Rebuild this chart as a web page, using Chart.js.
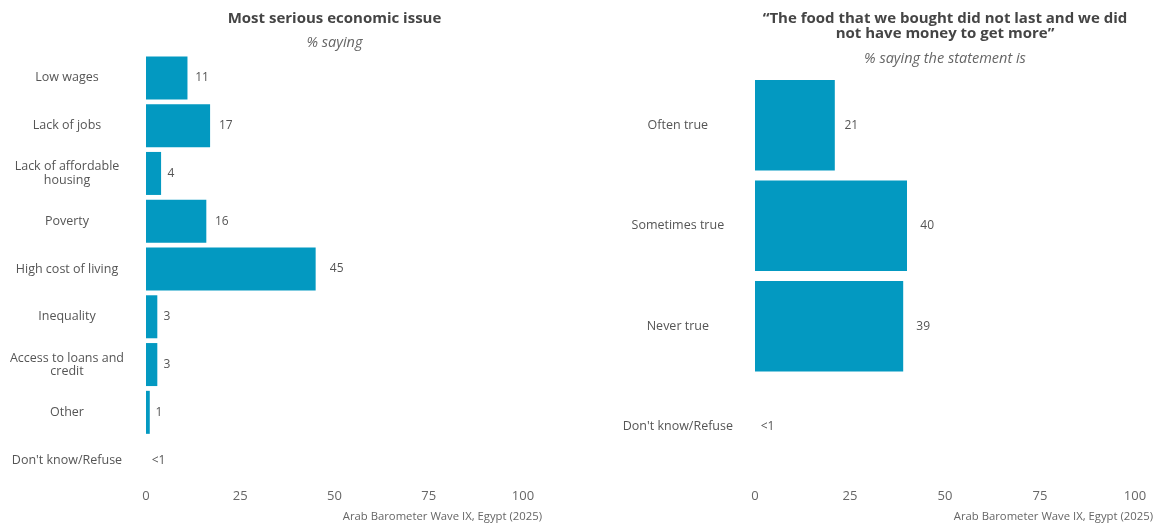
<!DOCTYPE html>
<html>
<head>
<meta charset="utf-8">
<script src="https://cdn.jsdelivr.net/npm/chart.js@4"></script>
<style>
  body { margin: 0; background: #fff; font-family: "Open Sans", sans-serif; }
  #wrap { position: relative; width: 1158px; height: 525px; }
  .box { position: absolute; top: 0; height: 525px; }
  .title { position: absolute; text-align: center; color: #454545; font-weight: 700; font-size: 15px; line-height: 15px; }
  .sub { position: absolute; text-align: center; color: #666; font-style: italic; font-size: 14.5px; }
  .caption { position: absolute; color: #666; font-size: 11.3px; text-align: right; }
</style>
</head>
<body>
<div id="wrap">
  <div class="box" style="left:0;width:580px"><canvas id="issue_chart"></canvas></div>
  <div class="box" style="left:580px;width:578px"><canvas id="food_chart"></canvas></div>

  <div class="title" style="left:146px;width:377px;top:10px">Most serious economic issue</div>
  <div class="sub" style="left:146px;width:377px;top:32px">% saying</div>
  <div class="caption" style="left:200px;width:342px;top:508px">Arab Barometer Wave IX, Egypt (2025)</div>

  <div class="title" style="left:715px;width:460px;top:10px">“The food that we bought did not last and we did<br>not have money to get more”</div>
  <div class="sub" style="left:755px;width:380px;top:48px">% saying the statement is</div>
  <div class="caption" style="left:800px;width:353px;top:508px">Arab Barometer Wave IX, Egypt (2025)</div>
</div>

<script>
// left panel: most serious economic issue
var issueLabels = ['Low wages', 'Lack of jobs', ['Lack of affordable', 'housing'], 'Poverty',
    'High cost of living', 'Inequality', ['Access to loans and', 'credit'], 'Other', "Don't know/Refuse"];
var issueValues = [11, 17, 4, 16, 45, 3, 3, 1, 0];
var issueText = ['11', '17', '4', '16', '45', '3', '3', '1', '<1'];

// right panel: food did not last
var foodLabels = ['Often true', 'Sometimes true', 'Never true', "Don't know/Refuse"];
var foodValues = [21, 40, 39, 0];
var foodText = ['21', '40', '39', '<1'];

var xTicks = [0, 25, 50, 75, 100];

var barColor = '#0399C1';
var textColor = '#555';
var fontFamily = '"Open Sans", sans-serif';

// writes the value text just past the end of each bar
const valueText = {
    id: 'valueText',
    afterDatasetsDraw(chart, args, opts) {
        const c = chart.ctx;
        const xs = chart.scales.x;
        const meta = chart.getDatasetMeta(0);
        c.save();
        c.font = '12px ' + fontFamily;
        c.fillStyle = textColor;
        c.textAlign = 'left';
        c.textBaseline = 'middle';
        meta.data.forEach(function(bar, i) {
            const v = chart.data.datasets[0].data[i];
            c.fillText(opts.labels[i], xs.getPixelForValue(v * 1.05 + 1.5), bar.y);
        });
        c.restore();
    }
};

function makeChart(id, labels, values, texts, top, right, axisW, axisH, tickPad, labelPad) {
    return new Chart(document.getElementById(id), {
        type: 'bar',
        data: {
            labels: labels,
            datasets: [{
                data: values,
                backgroundColor: barColor,
                borderWidth: 0,
                barPercentage: 0.9,
                categoryPercentage: 1
            }]
        },
        options: {
            indexAxis: 'y',
            responsive: true,
            maintainAspectRatio: false,
            animation: false,
            layout: { padding: { top: top, right: right, bottom: 0, left: 0 } },
            plugins: {
                legend: { display: false },
                tooltip: { enabled: false },
                valueText: { labels: texts }
            },
            scales: {
                x: {
                    min: 0,
                    max: 100,
                    afterBuildTicks: function(scale) {
                        scale.ticks = xTicks.map(function(v) { return { value: v }; });
                    },
                    afterFit: function(scale) { scale.height = axisH; },
                    grid: { display: false, drawTicks: false },
                    border: { display: false },
                    ticks: { color: '#666', padding: tickPad, maxRotation: 0, font: { family: fontFamily, size: 13 } }
                },
                y: {
                    afterFit: function(scale) { scale.width = axisW; },
                    grid: { display: false, drawTicks: false },
                    border: { display: false },
                    ticks: {
                        color: textColor,
                        crossAlign: 'center',
                        padding: labelPad,
                        font: { family: fontFamily, size: 12.5, lineHeight: 1.05 }
                    }
                }
            }
        },
        plugins: [valueText]
    });
}

makeChart('issue_chart', issueLabels, issueValues, issueText, 54, 57, 146, 41, 4, 22);
makeChart('food_chart', foodLabels, foodValues, foodText, 75, 23, 175, 48, 11, 22);
</script>
</body>
</html>
